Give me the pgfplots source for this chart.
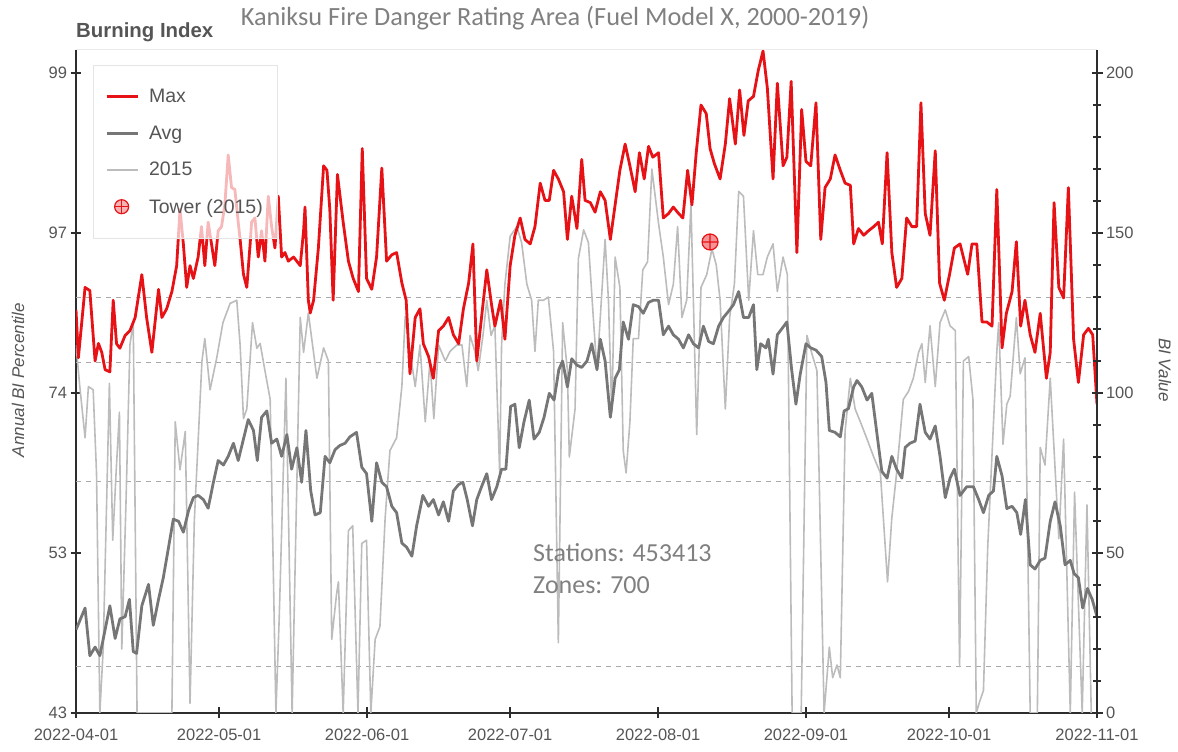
\documentclass[border=0pt]{standalone}
\usepackage{pgfplots}
\pgfplotsset{compat=1.18}
\usepackage{fontspec}
\setmainfont{Liberation Sans}
\newfontfamily\carlito{Carlito}
\definecolor{maxred}{RGB}{230,18,22}
\definecolor{avggray}{RGB}{118,118,118}
\definecolor{yrgray}{RGB}{188,188,188}
\definecolor{txtgray}{RGB}{85,85,85}
\definecolor{titlegray}{RGB}{128,128,128}
\definecolor{axisdark}{RGB}{45,45,45}
\definecolor{gridgray}{RGB}{170,170,170}
\begin{document}
\begin{tikzpicture}
\begin{axis}[
  scale only axis, width=1021pt, height=663pt,
  xmin=0, xmax=214, ymin=0, ymax=207.2,
  axis x line*=bottom, axis y line*=left,
  axis line style={axisdark, line width=1.6pt},
  xtick={0,30,61,91,122,153,183,214},
  xticklabels={2022-04-01,2022-05-01,2022-06-01,2022-07-01,2022-08-01,2022-09-01,2022-10-01,2022-11-01},
  ytick={0,50,100,150,200}, yticklabels={43,53,74,97,99},
  extra y ticks={14.5,72.5,109.5,130},
  extra y tick labels={},
  extra y tick style={grid=major, major tick length=0pt, major grid style={gridgray, line width=1pt, dash pattern=on 5pt off 5pt}},
  tick align=center, major tick length=11pt,
  tick style={axisdark, line width=1.4pt},
  ticklabel style={font=\fontsize{16.5}{18}\selectfont, text=txtgray},
  xticklabel style={yshift=-7pt},
  legend cell align=left,
  legend style={at={(0.0167,0.977)}, anchor=north west, fill=white, fill opacity=0.7, text opacity=1, draw=black!10, font=\fontsize{19.5}{22}\selectfont, text=txtgray, row sep=17.5pt, inner xsep=12pt, inner ysep=22pt, /tikz/every odd column/.append style={column sep=8pt}},
]
\addlegendimage{legend image code/.code={\draw[maxred, line width=2.8pt] (0pt,0pt) -- (31pt,0pt);}}
\addlegendimage{legend image code/.code={\draw[avggray, line width=2.8pt] (0pt,0pt) -- (31pt,0pt);}}
\addlegendimage{legend image code/.code={\draw[yrgray, line width=1.6pt] (0pt,0pt) -- (31pt,0pt);}}
\addlegendimage{legend image code/.code={\path[draw=maxred, fill=maxred!45, line width=1.2pt] (15pt,0pt) circle (7pt); \draw[maxred, line width=1.2pt] (8pt,0pt) -- (22pt,0pt) (15pt,-7pt) -- (15pt,7pt);}}
\addplot[forget plot, yrgray, line width=1.6pt, line join=round] table {
x y
0 115
0.8 102
1.9 86
2.6 102
3.6 101
4.3 75
5.0 0
5.7 20
7.0 103
7.7 54
8.4 75
9.1 94
9.6 20
10.5 67
11.3 115
12.0 122
12.8 0
20.1 0
20.8 91
21.8 76
22.9 88
23.9 3
24.8 60
26.4 110
27.0 117
28.1 101
29.5 111
30.8 122
32.3 128
33.7 129
34.4 115
35.1 92
35.8 95
37.0 122
37.9 114
38.6 115.5
39.6 107
40.7 98
41.9 0
42.6 30
44.0 104.6
45.3 0
47.0 123.6
47.7 112.7
48.7 125
50.5 104.6
51.9 114.1
52.9 110
53.6 23
54.6 37
55.0 41
56.0 0
57.1 57
58.0 58.5
59.1 0
59.9 53
60.9 54
61.8 0
62.7 23
63.7 27
64.8 61
65.8 82
67.2 86
68.3 102
69.0 124
70.0 113
71.1 102
72.1 115
73.2 91
74.2 110
75.0 92
76.0 115
77.4 110
78.4 113
79.8 115
80.9 115
81.9 102
82.6 118
83.6 113
84.3 107
85.3 118
86.1 129
87.0 118
87.8 121
88.8 75
89.2 115
89.9 134
91.0 149
92.4 152
93.4 147
94.5 134
95.5 129
96.2 113
96.9 129
98.0 129
99.0 130
100.1 113
101.1 22
102.0 122
103.0 107
103.4 80
104.6 95
105.3 142
106.4 151
107.4 147
108.5 122
109.2 107
110.9 148
111.6 129
112.3 94
113.0 142.5
114.0 133
114.7 82
115.3 75
116.1 91
116.8 117
117.9 117
118.8 138.5
119.8 141
120.7 170
121.4 161.5
122.1 153
123.1 142.5
124.2 127.6
125.2 134
126.1 152
127.0 123.6
128.0 129
128.9 159
130.1 87
131.0 133
132.2 137
133.3 145
134.2 140
135.0 129
136.1 95
137.0 123.6
138.0 134
138.9 163
139.9 161.5
141.0 129
142.0 150.7
142.9 137
144.0 137
144.9 142.5
146.1 146.6
147.0 131.7
148.2 142.5
149.1 137
150.1 0
152.0 0
153.2 118
154.3 112
155.3 107
156.8 0
157.9 20.6
158.6 11
159.5 15
160.2 11
161.2 88
162.3 104.6
163.3 95
164.4 91
165.8 85.6
167.2 80
168.6 75
170.1 41
171.0 61
172.0 75
173.4 98
174.5 100.5
175.5 104.6
176.6 112.7
177.3 115.4
178.0 103.3
179.0 121
180.1 102
181.1 122
182.2 126
183.2 121
184.3 119.5
185.2 14.5
186.0 110
187.1 111.4
188.0 98
188.7 0
189.5 4
190.2 7
191.1 52
193.0 113
193.4 122
194.3 84
195.1 96.5
195.8 99
197.1 123.6
197.9 106
198.9 111
200.0 0
201.5 0
202.1 83
203.1 77.5
204.2 104.6
206.0 54.5
207.0 85.6
208.4 0
209.3 69
210.9 0
211.9 65
212.8 0
214.0 0
};
\addplot[forget plot, avggray, line width=2.8pt, line join=round] table {
x y
0 26
1.9 32.8
2.9 17.9
4.0 20.6
5.0 17.9
6.1 26
7.1 33.5
8.2 23.3
9.2 29.4
10.3 30.1
11.2 35.5
12.0 19.2
12.7 18.6
13.8 33.5
15.2 40.2
16.2 27.4
17.3 35.5
18.3 42.3
19.4 51.8
20.4 60.6
21.5 59.9
22.5 56.5
23.6 63.3
24.6 67.3
25.6 68
26.7 66.7
27.7 64
28.8 72.1
29.8 78.9
30.9 77.5
31.9 80.2
33.0 84.3
34.0 78.9
35.1 85.6
36.1 91.7
37.2 88.3
38.0 78.9
38.9 92.4
40.0 94.4
41.0 84.3
42.1 85.6
43.1 80.2
44.2 87
45.2 76.2
46.3 82.9
47.3 72.1
48.2 88.3
49.2 69.4
50.1 61.9
51.2 62.6
52.2 80.2
53.2 78.2
54.3 82.3
55.3 83.6
56.4 84.3
57.4 86.3
58.8 87.7
59.9 76.8
60.9 74.8
62.0 59.9
63.0 78.2
64.1 72.1
65.1 70.7
66.2 64.6
67.2 62.6
68.3 53.1
69.3 51.8
70.4 49
71.4 58.5
72.7 68
73.9 64.6
74.9 66.7
76.0 61.9
77.0 66
78.1 59.9
79.1 69.4
80.2 71.4
81.1 72.1
82.0 66.7
83.1 58.5
84.0 66.7
85.0 70.7
86.1 74.8
87.1 66.7
88.2 70.7
89.2 76.2
90.1 76.2
91.1 95.8
92.0 96.5
92.9 82.9
93.9 91
95.0 97.8
96.0 85.6
97.1 87.7
98.1 92.4
99.2 99.9
100.2 97.8
101.2 107.3
102.0 110
103.0 101.9
103.9 110.7
105.0 108.7
106.0 108
107.1 110
108.1 115.4
109.2 107.3
109.9 116.8
110.9 110
112.0 92.4
113.0 104.6
113.9 107.3
114.7 122.2
115.8 116.8
116.8 127.6
117.9 127
118.9 124.9
120.0 128.3
121.0 129
122.1 129
123.1 118.2
124.2 120.9
125.2 118.2
126.3 116.8
127.3 114.1
128.4 118.2
129.4 115.4
130.5 114.1
131.5 120.9
132.6 116.1
133.6 115.4
134.7 120.9
135.7 123.6
136.8 125.6
137.8 127.6
138.9 131.7
139.9 123.6
141.0 123.6
142.0 127.6
142.7 107.3
143.5 115.4
144.6 114.1
145.1 116.8
146.1 105.9
147.0 118.2
148.0 120.2
149.0 122.2
150.0 107.3
150.9 96.5
151.8 105.9
153.0 115.4
154.0 114.1
155.1 113.4
156.3 111.4
157.2 103.3
157.9 88.3
159.1 87.7
160.2 86.3
161.0 94.4
161.9 95.1
163.0 101.9
163.7 103.9
164.7 101.9
165.8 97.8
166.8 99.9
167.9 87
168.9 75.5
170.0 73.4
171.0 80.2
172.0 76.2
173.1 73.4
173.8 83
174.8 84.3
175.9 85
176.9 96.5
178.0 87.7
179.0 85.6
180.1 89.7
181.1 80.2
182.2 67.3
183.2 73.4
184.1 76.2
185.3 68
186.7 70.7
188.1 70.7
189.2 66.7
190.2 62.6
191.3 68
192.3 69.4
193.0 80.2
194.1 74.1
195.1 63.9
196.2 64.6
197.2 62.6
198.0 55.8
199.0 66.7
200.0 46.3
201.0 45
202.1 47.7
203.1 48.4
204.2 59.9
205.2 66
206.3 58.5
207.3 46.3
208.4 47.7
209.2 43.6
210.1 42.3
211.0 32.8
212.0 38.9
213.0 35.5
214.0 30.1
};
\addplot[forget plot, maxred, line width=2.8pt, line join=round] table {
x y
0 126
0.5 111
1.9 133
2.9 132
4.0 110
4.7 115.5
5.4 112.7
6.1 107.3
7.1 106.6
7.8 129
8.5 115.4
9.2 114
10.3 118
11.3 119.5
12.4 123.6
13.8 137
14.8 123.6
15.9 112.7
17.3 132.4
18.0 123.6
19.0 126.3
20.1 131.7
21.1 139.8
21.8 157.4
22.5 146.6
23.2 133
23.9 139.8
24.6 135.8
25.6 142.5
26.3 152
27.0 139.8
27.7 153.4
28.4 146.6
29.1 139.8
29.8 150.7
30.5 152
31.2 158.8
31.9 174.4
32.6 164.2
33.3 163.6
34.0 153.4
34.4 148
35.1 137.1
35.8 133
36.5 146.6
36.8 153.4
37.5 154.7
38.2 142.5
38.9 150.7
39.6 141.2
40.3 161.5
41.0 152
41.7 145.3
42.4 161.5
43.1 142.5
43.8 143.9
44.5 141.2
45.6 142.5
47.0 139.8
47.7 150.7
48.0 158.1
48.7 129
49.1 125
49.8 129
50.8 145.3
51.9 171
52.6 169.6
53.2 157.4
53.9 129
54.8 168.3
56.0 153.4
57.1 141.2
58.1 135.8
59.2 131.7
60.0 176.4
60.9 135.8
62.0 132.4
63.0 142.5
64.1 170.3
65.1 141.2
66.2 143.2
67.2 143.9
68.3 134.4
69.2 129
70.0 106
71.1 123.6
72.1 126.3
72.8 115.4
73.9 111.4
74.9 104.6
76.0 119.5
77.0 120.9
78.1 123.6
79.1 118.2
80.2 115.4
81.2 126.3
82.3 134.4
83.2 146.6
84.0 110
85.0 123.6
86.1 138.5
87.1 127.6
87.8 120.9
89.0 129
89.9 116.8
91.0 139.8
92.0 149.3
93.1 154.7
94.1 148
95.2 146.6
96.2 152
97.3 165.6
98.3 160.2
99.2 160.2
100.1 169.6
101.1 166.9
102.2 162.9
103.0 148
103.9 161.5
105.0 151.4
106.0 173
106.7 160.2
107.8 159.5
108.8 156.5
109.9 162.9
110.9 160.2
112.0 148
113.0 158.8
114.0 169.6
115.1 177.8
116.1 171
117.2 162.9
118.1 175.1
119.1 166.9
120.0 177.1
120.9 173.7
122.1 175.1
123.1 154.7
124.2 156.1
125.2 158.1
126.3 156.1
127.2 154.7
128.2 169.6
129.1 158.8
130.0 175.1
131.0 190
132.1 187.3
132.9 176.4
133.8 171.7
135.0 166.9
136.1 177.8
137.0 192
138.2 177.8
139.1 194.7
140.0 180.5
140.9 191.3
142.0 192.7
143.0 200.8
144.0 206.9
144.9 195.4
146.1 166.9
147.0 196.8
148.2 171
149.0 173.7
149.9 197.4
151.1 143.9
152.1 188.6
153.0 172.4
154.0 171
155.1 190.7
156.1 148
157.0 164.2
158.1 166.9
159.1 174.4
160.2 169.6
161.2 165.6
162.3 164.9
163.0 146.6
164.0 151.4
165.1 149.3
166.1 150.7
167.2 152
168.2 153.4
169.0 146.6
170.0 175.1
171.0 143.9
172.0 133
173.1 135.8
174.1 154.7
175.2 152
176.2 152
177.1 190.7
178.0 156.1
179.0 149.3
180.1 175.7
181.0 134.4
182.0 129
183.1 137.1
184.1 145.3
185.3 146.6
186.9 137.1
187.8 146.6
188.8 146.6
189.9 122.2
190.9 122.2
192.0 120.9
193.0 163.6
194.1 114.1
195.0 124.9
196.2 131.7
197.1 147.3
198.0 120.9
198.9 129
200.0 118.2
201.0 112.7
202.1 124.9
203.4 104.6
204.2 112.7
205.0 159.5
206.0 133
207.0 129.7
208.0 164.2
209.1 116.8
210.1 103.3
211.2 118.2
212.2 120.2
213.1 118.2
214.0 96.5
};
\addplot[forget plot, only marks, mark=oplus*, mark size=8pt, mark options={draw=maxred, fill=maxred!45, line width=1.2pt}] table {
x y
132.9 147.2
};
\legend{Max,Avg,2015,Tower (2015)}
\end{axis}
\begin{axis}[
  scale only axis, width=1021pt, height=663pt,
  xmin=0, xmax=214, ymin=0, ymax=207.2,
  axis y line*=right, axis x line=none,
  axis line style={axisdark, line width=1.6pt},
  ytick={0,50,100,150,200},
  minor ytick={10,20,30,40,60,70,80,90,110,120,130,140,160,170,180,190},
  tick align=center, major tick length=11pt, minor tick length=8pt,
  tick style={axisdark, line width=1.4pt},
  /pgf/number format/assume math mode=true,
  ticklabel style={font=\fontsize{16.5}{18}\selectfont, text=txtgray},
]
\end{axis}
\draw[black!8, line width=1pt] (0pt,663pt) -- (1021pt,663pt);
\node[font=\carlito\fontsize{26.3}{31}\selectfont, text=titlegray] at (479pt,695pt) {Kaniksu Fire Danger Rating Area (Fuel Model X, 2000-2019)};
\node[anchor=west, inner sep=0pt, font=\bfseries\fontsize{20.4}{23}\selectfont, text=txtgray] at (0pt,681pt) {Burning Index};
\node[rotate=90, font=\itshape\fontsize{17}{20}\selectfont, text=txtgray] at (-58pt,333pt) {Annual BI Percentile};
\node[rotate=-90, font=\itshape\fontsize{17}{20}\selectfont, text=txtgray] at (1089pt,343pt) {BI Value};
\node[anchor=west, inner sep=0pt, font=\carlito\fontsize{26}{31}\selectfont, text=titlegray] at (457pt,160pt) {Stations: 453413};
\node[anchor=west, inner sep=0pt, font=\carlito\fontsize{26}{31}\selectfont, text=titlegray] at (457pt,128pt) {Zones: 700};
\pgfresetboundingbox
\path[use as bounding box] (-76pt,-39pt) rectangle (1102pt,713pt);
\end{tikzpicture}
\end{document}
